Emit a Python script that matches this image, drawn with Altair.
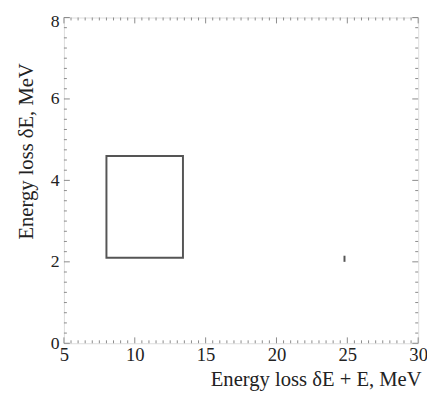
import altair as alt
import numpy as np
import pandas as pd

# Data
box_x = [8.0]
box_x2 = [13.4]
box_y = [2.1]
box_y2 = [4.6]

dash_x = [24.8]
dash_y = [2.0]
dash_y2 = [2.15]

x_major = [5, 10, 15, 20, 25, 30]
y_major = [0, 2, 4, 6, 8]
x_minor = [v for v in np.arange(5, 30.01, 0.5) if v % 5 != 0]
y_minor = [v for v in np.arange(0, 8.01, 0.25) if v % 2 != 0]

W, H = 361, 332
FRAME = "#8a8a8a"
INK = "#555555"
FONT = "Liberation Serif"

xs = alt.Scale(domain=[5, 30], nice=False, zero=False)
ys = alt.Scale(domain=[0, 8], nice=False, zero=False)

box_df = pd.DataFrame({"x": box_x, "x2": box_x2, "y": box_y, "y2": box_y2})
dash_df = pd.DataFrame({"x": dash_x, "y": dash_y, "y2": dash_y2})

base_x = alt.X(
    "x:Q", scale=xs,
    axis=alt.Axis(
        values=x_major, title="Energy loss δE + E, MeV", domain=False, ticks=False,
        tickSize=0, grid=False, labelFlush=False, labelOverlap=False,
        labelFont=FONT, labelFontSize=19, labelColor="#222", labelPadding=3,
        titleFont=FONT, titleFontSize=21, titleFontWeight="normal", titleColor="#222",
        titleAlign="right", titleAnchor="end", titleBaseline="alphabetic",
        titleX=W + 3, titleY=43,
    ),
)
base_y = alt.Y(
    "y:Q", scale=ys,
    axis=alt.Axis(
        values=y_major, title="Energy loss δE, MeV", domain=False, ticks=False,
        tickSize=0, grid=False, labelFlush=False, labelOverlap=False,
        labelFont=FONT, labelFontSize=18, labelColor="#222", labelPadding=5,
        labelOffset={"condition": {"test": "datum.value == 8", "value": 4}, "value": 0},
        titleFont=FONT, titleFontSize=21, titleFontWeight="normal", titleColor="#222",
        titleAngle=-90, titleAlign="center", titleBaseline="middle",
        titleX=-38, titleY=136,
    ),
)

box = alt.Chart(box_df).mark_rect(
    filled=False, stroke=INK, strokeWidth=2
).encode(x=base_x, x2="x2:Q", y=base_y, y2="y2:Q")

dash = alt.Chart(dash_df).mark_rule(stroke=INK, strokeWidth=2).encode(
    x=alt.X("x:Q", scale=xs), y=alt.Y("y:Q", scale=ys), y2="y2:Q"
)


def xticks(vals, length):
    df = pd.DataFrame({"t": vals})
    bottom = alt.Chart(df).mark_rule(stroke=FRAME, strokeWidth=1).encode(
        x=alt.X("t:Q", scale=xs), y=alt.value(H), y2=alt.value(H - length)
    )
    top = alt.Chart(df).mark_rule(stroke=FRAME, strokeWidth=1).encode(
        x=alt.X("t:Q", scale=xs), y=alt.value(0), y2=alt.value(length)
    )
    return [bottom, top]


def yticks(vals, length):
    df = pd.DataFrame({"t": vals})
    left = alt.Chart(df).mark_rule(stroke=FRAME, strokeWidth=1).encode(
        y=alt.Y("t:Q", scale=ys), x=alt.value(0), x2=alt.value(length)
    )
    right = alt.Chart(df).mark_rule(stroke=FRAME, strokeWidth=1).encode(
        y=alt.Y("t:Q", scale=ys), x=alt.value(W), x2=alt.value(W - length)
    )
    return [left, right]


layers = [box, dash]
layers += xticks(x_minor, 3) + xticks(x_major, 6)
layers += yticks(y_minor, 3) + yticks(y_major, 6)

chart = alt.layer(*layers).properties(
    width=W, height=H,
    autosize=alt.AutoSizeParams(type="none"),
    padding={"left": 57, "top": 6, "right": 9, "bottom": 47},
).configure_view(stroke=FRAME, strokeWidth=1.5).configure(background="white")

chart.save("out.html", embed_options={"renderer": "svg", "actions": False})
